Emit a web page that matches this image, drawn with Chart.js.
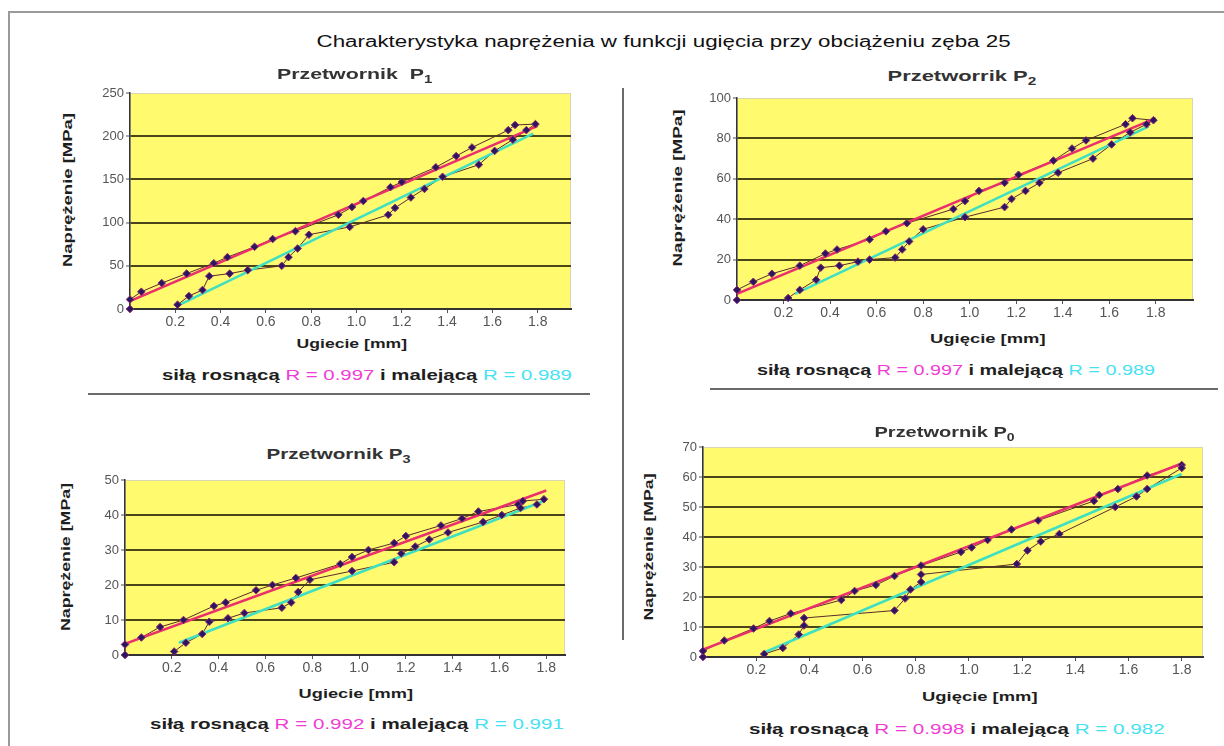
<!DOCTYPE html>
<html lang="pl">
<head>
<meta charset="utf-8">
<script src="https://cdn.jsdelivr.net/npm/chart.js@4.4.1/dist/chart.umd.min.js"></script>
<style>
  html, body { margin: 0; padding: 0; background: #fff; }
  body { width: 1224px; height: 746px; position: relative; overflow: hidden; font-family: "Liberation Sans", Arial, sans-serif; }
  .ramka { position: absolute; left: 8px; top: 11px; width: 1260px; height: 780px; border: 2px solid #9a9a9a; }
  .txt { position: absolute; white-space: nowrap; line-height: 1; color: #1e1e1e; }
  .txt sub { font-size: 70%; vertical-align: -0.35em; line-height: 0; }
  .linia { position: absolute; background: #6a6a6a; }
  canvas { position: absolute; }
  .ros { color: #f03cd6; font-weight: normal; }
  .mal { color: #45e2f2; font-weight: normal; }
</style>
</head>
<body>
<div class="ramka"></div>
<div class="linia" style="left:88px; top:393px; width:502px; height:2px;"></div>
<div class="linia" style="left:710px; top:388px; width:508px; height:2px;"></div>
<div class="linia" style="left:622px; top:88px; width:2px; height:552px;"></div>

<canvas id="wykresP1"></canvas>
<canvas id="wykresP2"></canvas>
<canvas id="wykresP3"></canvas>
<canvas id="wykresP0"></canvas>

<script>
// --- dane ---
const tytulGlowny = 'Charakterystyka naprężenia w funkcji ugięcia przy obciążeniu zęba 25';
const tytulyPaneli = ['Przetwornik&nbsp; P<sub>1</sub>', 'Przetworrik P<sub>2</sub>', 'Przetwornik P<sub>3</sub>', 'Przetwornik P<sub>0</sub>'];
const osX = ['Ugiecie [mm]', 'Ugięcie [mm]', 'Ugiecie [mm]', 'Ugięcie [mm]'];
const osY = 'Naprężenie [MPa]';
const rRosnaca = ['0.997', '0.997', '0.992', '0.998'];
const rMalejaca = ['0.989', '0.989', '0.991', '0.982'];

const xTicks = [0.2, 0.4, 0.6, 0.8, 1.0, 1.2, 1.4, 1.6, 1.8];
const p1YTicks = [0, 50, 100, 150, 200, 250];
const p2YTicks = [0, 20, 40, 60, 80, 100];
const p3YTicks = [0, 10, 20, 30, 40, 50];
const p0YTicks = [0, 10, 20, 30, 40, 50, 60, 70];

// P1
const p1RosX = [0, 0, 0.05, 0.14, 0.25, 0.37, 0.43, 0.55, 0.63, 0.73, 0.92, 0.98, 1.03, 1.15, 1.20, 1.35, 1.44, 1.51, 1.67, 1.70, 1.79];
const p1RosY = [0, 11, 20, 30, 41, 53, 60, 72, 81, 90, 109, 118, 125, 141, 147, 164, 177, 187, 207, 213, 214];
const p1MalX = [1.75, 1.69, 1.61, 1.54, 1.38, 1.30, 1.24, 1.17, 1.14, 0.97, 0.79, 0.74, 0.70, 0.67, 0.52, 0.44, 0.35, 0.32, 0.26, 0.21];
const p1MalY = [207, 196, 183, 167, 153, 139, 129, 117, 109, 95, 86, 70, 60, 50, 45, 41, 38, 22, 15, 5];
const p1TrendRosX = [0, 1.8], p1TrendRosY = [9, 212];
const p1TrendMalX = [0.22, 1.78], p1TrendMalY = [5, 203];

// P2
const p2RosX = [0, 0, 0.07, 0.15, 0.27, 0.38, 0.43, 0.57, 0.64, 0.73, 0.93, 0.98, 1.04, 1.15, 1.21, 1.36, 1.44, 1.50, 1.67, 1.70, 1.79];
const p2RosY = [0, 5, 9, 13, 17, 23, 25, 30, 34, 38, 45, 49, 54, 58, 62, 69, 75, 79, 87, 90, 89];
const p2MalX = [1.76, 1.69, 1.61, 1.53, 1.38, 1.30, 1.24, 1.18, 1.15, 0.98, 0.80, 0.74, 0.71, 0.68, 0.57, 0.52, 0.44, 0.36, 0.34, 0.27, 0.22];
const p2MalY = [87, 83, 77, 70, 63, 58, 54, 50, 46, 41, 35, 29, 25, 21, 20, 19, 17, 16, 10, 5, 1];
const p2TrendRosX = [0, 1.8], p2TrendRosY = [3, 90];
const p2TrendMalX = [0.25, 1.77], p2TrendMalY = [3, 86];

// P3
const p3RosX = [0, 0, 0.07, 0.15, 0.25, 0.38, 0.43, 0.56, 0.63, 0.73, 0.92, 0.97, 1.04, 1.15, 1.20, 1.35, 1.44, 1.51, 1.68, 1.70, 1.79];
const p3RosY = [0, 3, 5, 8, 10, 14, 15, 18.5, 20, 22, 26, 28, 30, 32, 34, 37, 39, 41, 43, 44, 44.5];
const p3MalX = [1.76, 1.69, 1.61, 1.53, 1.38, 1.30, 1.24, 1.18, 1.15, 0.97, 0.79, 0.74, 0.71, 0.67, 0.51, 0.44, 0.36, 0.33, 0.26, 0.21];
const p3MalY = [43, 42, 40, 38, 35, 33, 31, 29, 26.5, 24, 21.5, 18, 15, 13.5, 12, 10.5, 9.5, 6, 3.5, 1];
const p3TrendRosX = [0, 1.8], p3TrendRosY = [3.2, 47];
const p3TrendMalX = [0.23, 1.79], p3TrendMalY = [3.5, 44];

// P0
const p0RosX = [0, 0, 0.08, 0.19, 0.25, 0.33, 0.52, 0.57, 0.65, 0.72, 0.82, 0.97, 1.01, 1.07, 1.16, 1.26, 1.47, 1.49, 1.56, 1.67, 1.80];
const p0RosY = [0, 2, 5.5, 9.5, 12, 14.5, 19, 22, 24, 27, 30.5, 35, 36.5, 39, 42.5, 45.5, 52, 54, 56, 60.5, 64];
const p0MalX = [1.80, 1.67, 1.63, 1.55, 1.34, 1.27, 1.22, 1.18, 0.82, 0.82, 0.78, 0.76, 0.72, 0.38, 0.38, 0.36, 0.30, 0.23];
const p0MalY = [63, 56, 53.5, 50, 41, 38.5, 35.5, 31, 27.5, 25, 22.5, 19.5, 15.5, 13, 10.5, 7.5, 3, 1];
const p0TrendRosX = [0, 1.8], p0TrendRosY = [2.5, 64.5];
const p0TrendMalX = [0.23, 1.8], p0TrendMalY = [1.5, 61];

// --- pomocnicze ---
const punkty = (xs, ys) => xs.map((x, i) => ({ x, y: ys[i] }));

function napis(html, cx, cy, szer, styl, obrot) {
  const el = document.createElement('div');
  el.className = 'txt';
  el.innerHTML = html;
  Object.assign(el.style, styl || {});
  document.body.appendChild(el);
  const w = el.offsetWidth, h = el.offsetHeight;
  el.style.left = (cx - w / 2) + 'px';
  el.style.top = (cy - h / 2) + 'px';
  const sx = szer / w;
  el.style.transform = (obrot ? 'rotate(-90deg) ' : '') + 'scaleX(' + sx.toFixed(3) + ')';
}

const tloWykresu = {
  id: 'tloWykresu',
  beforeDraw(chart) {
    const { ctx, chartArea: a } = chart;
    ctx.save();
    ctx.fillStyle = '#fffa6e';
    ctx.fillRect(a.left, a.top, a.right - a.left, a.bottom - a.top);
    ctx.strokeStyle = '#d9d6b0';
    ctx.lineWidth = 1;
    ctx.strokeRect(a.left + 0.5, a.top + 0.5, a.right - a.left - 1, a.bottom - a.top - 1);
    ctx.restore();
  }
};

function rysuj(id, p) {
  const c = document.getElementById(id);
  const lewo = p.plot[0] - 35, gora = p.plot[2] - 10;
  c.width = p.plot[1] - lewo + 3;
  c.height = p.plot[3] - gora + 22;
  c.style.left = lewo + 'px';
  c.style.top = gora + 'px';
  const sciezka = punkty(p.rosX.concat(p.malX), p.rosY.concat(p.malY));
  const yMax = p.yTicks[p.yTicks.length - 1];

  new Chart(c, {
    type: 'scatter',
    data: {
      datasets: [
        { data: sciezka, showLine: true, borderColor: 'rgba(0,0,0,0)', pointStyle: 'rectRot', pointRadius: 3.8,
          pointBackgroundColor: '#2a1660', pointBorderColor: '#8e2b72', pointBorderWidth: 1, order: 0, clip: false },
        { data: punkty(p.trRosX, p.trRosY), showLine: true, borderColor: '#ea2f6c', borderWidth: 2.5, pointRadius: 0, order: 1 },
        { data: punkty(p.trMalX, p.trMalY), showLine: true, borderColor: '#3fe0c2', borderWidth: 2.5, pointRadius: 0, order: 1 },
        { data: sciezka, showLine: true, borderColor: '#5b2b2b', borderWidth: 1, pointRadius: 0, order: 2, clip: false }
      ]
    },
    options: {
      responsive: false,
      devicePixelRatio: 1,
      animation: false,
      layout: { padding: { top: 10, right: 3, left: 0, bottom: 0 } },
      plugins: { legend: { display: false }, tooltip: { enabled: false } },
      scales: {
        x: {
          type: 'linear', min: 0, max: p.xMax,
          afterBuildTicks: s => { s.ticks = xTicks.map(v => ({ value: v })); },
          afterFit: s => { s.height = 22; },
          ticks: { font: { size: 14, family: '"Liberation Sans", Arial' }, color: '#555', padding: 1,
                   maxRotation: 0, autoSkip: false, callback: v => Number(v).toFixed(1) },
          grid: { drawOnChartArea: false, tickLength: 4, color: '#555' },
          border: { color: '#333', width: 2 }
        },
        y: {
          type: 'linear', min: 0, max: yMax,
          afterBuildTicks: s => { s.ticks = p.yTicks.map(v => ({ value: v })); },
          afterFit: s => { s.width = 35; },
          ticks: { font: { size: 13, family: '"Liberation Sans", Arial' }, color: '#555', padding: 2 },
          grid: {
            color: g => (g.tick && g.tick.value > 0 && g.tick.value < yMax) ? '#4a4518' : 'rgba(0,0,0,0)',
            lineWidth: 2, tickLength: 4, tickColor: '#555', tickWidth: 1
          },
          border: { color: '#333', width: 1.5 }
        }
      }
    },
    plugins: [tloWykresu]
  });
}

rysuj('wykresP1', { plot: [130, 573, 93, 309], xMax: 1.947, yTicks: p1YTicks,
  rosX: p1RosX, rosY: p1RosY, malX: p1MalX, malY: p1MalY,
  trRosX: p1TrendRosX, trRosY: p1TrendRosY, trMalX: p1TrendMalX, trMalY: p1TrendMalY });
rysuj('wykresP2', { plot: [737, 1195, 98, 300], xMax: 1.96, yTicks: p2YTicks,
  rosX: p2RosX, rosY: p2RosY, malX: p2MalX, malY: p2MalY,
  trRosX: p2TrendRosX, trRosY: p2TrendRosY, trMalX: p2TrendMalX, trMalY: p2TrendMalY });
rysuj('wykresP3', { plot: [125, 567, 480, 655], xMax: 1.88, yTicks: p3YTicks,
  rosX: p3RosX, rosY: p3RosY, malX: p3MalX, malY: p3MalY,
  trRosX: p3TrendRosX, trRosY: p3TrendRosY, trMalX: p3TrendMalX, trMalY: p3TrendMalY });
rysuj('wykresP0', { plot: [703, 1205, 447, 657], xMax: 1.88, yTicks: p0YTicks,
  rosX: p0RosX, rosY: p0RosY, malX: p0MalX, malY: p0MalY,
  trRosX: p0TrendRosX, trRosY: p0TrendRosY, trMalX: p0TrendMalX, trMalY: p0TrendMalY });

// --- napisy ---
const podpis = i => 'siłą rosnącą <span class="ros">R = ' + rRosnaca[i] + '</span> i malejącą <span class="mal">R = ' + rMalejaca[i] + '</span>';

napis(tytulGlowny, 663, 42, 694, { fontSize: '16px', color: '#111' });

napis(tytulyPaneli[0], 354, 73, 155, { fontSize: '15px', fontWeight: 'bold', color: '#333' });
napis(tytulyPaneli[1], 962, 75, 149, { fontSize: '15px', fontWeight: 'bold', color: '#333' });
napis(tytulyPaneli[2], 338, 453, 144, { fontSize: '15px', fontWeight: 'bold', color: '#333' });
napis(tytulyPaneli[3], 944, 431, 140, { fontSize: '15px', fontWeight: 'bold', color: '#333' });

napis(osX[0], 352, 343, 111, { fontSize: '13px', fontWeight: 'bold' });
napis(osX[1], 988, 338, 116, { fontSize: '13px', fontWeight: 'bold' });
napis(osX[2], 356, 693, 115, { fontSize: '13px', fontWeight: 'bold' });
napis(osX[3], 980, 696, 116, { fontSize: '13px', fontWeight: 'bold' });

napis(osY, 68, 190, 154, { fontSize: '12px', fontWeight: 'bold' }, true);
napis(osY, 678, 188, 157, { fontSize: '12px', fontWeight: 'bold' }, true);
napis(osY, 66, 557, 148, { fontSize: '12px', fontWeight: 'bold' }, true);
napis(osY, 649, 547, 147, { fontSize: '12px', fontWeight: 'bold' }, true);

napis(podpis(0), 367, 374, 410, { fontSize: '15px', fontWeight: 'bold' });
napis(podpis(1), 956, 369, 398, { fontSize: '15px', fontWeight: 'bold' });
napis(podpis(2), 357, 723, 414, { fontSize: '15px', fontWeight: 'bold' });
napis(podpis(3), 957, 728, 416, { fontSize: '15px', fontWeight: 'bold' });
</script>
</body>
</html>
